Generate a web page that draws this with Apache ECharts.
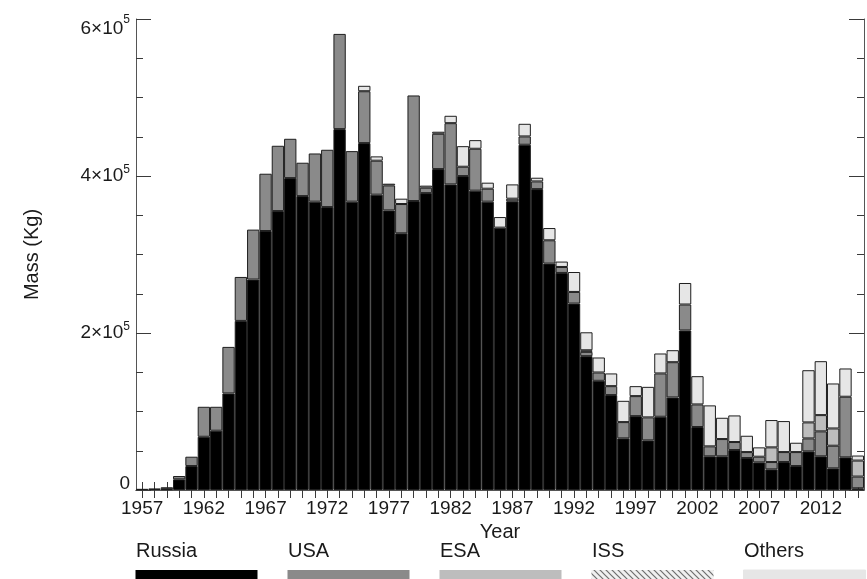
<!DOCTYPE html>
<html>
<head>
<meta charset="utf-8">
<script src="https://cdn.jsdelivr.net/npm/echarts@6/dist/echarts.min.js"></script>
<style>html,body{margin:0;padding:0;background:#fff}#c{width:867px;height:579px}</style>
</head>
<body>
<div id="c"></div>
<script>
// ---- data (kg per year) ----
const years = ['1957','1958','1959','1960','1961','1962','1963','1964','1965','1966',
  '1967','1968','1969','1970','1971','1972','1973','1974','1975','1976',
  '1977','1978','1979','1980','1981','1982','1983','1984','1985','1986',
  '1987','1988','1989','1990','1991','1992','1993','1994','1995','1996',
  '1997','1998','1999','2000','2001','2002','2003','2004','2005','2006',
  '2007','2008','2009','2010','2011','2012','2013','2014','2015'];

const russia = [1500,2000,1000,13600,30500,67800,75500,123000,215400,268100,
  329900,355300,397300,374400,367300,360400,459700,367300,441900,376200,
  356200,327000,368100,378200,408800,389300,399900,381300,367300,334200,
  367700,439800,383300,288400,276500,237500,170500,139100,120900,65800,
  94100,63200,93300,117900,203200,80200,42900,42900,50900,40700,
  35200,26300,35600,30500,49200,42900,27600,41600,2200];

const usa = [0,0,2500,4200,11900,38200,30500,59300,56000,63600,
  73000,83200,50100,42500,61400,73000,121300,64400,66100,43300,
  31800,37300,134500,6900,45000,78000,11900,53400,16500,0,
  3400,10600,9800,29700,7600,14800,5500,10600,11400,20700,
  25500,29300,55200,44900,33100,28800,12700,22000,10200,7600,
  7200,9300,12700,17800,16500,31800,28800,77200,14900];

const esa = [0,0,0,0,0,0,0,0,0,0,
  0,0,0,0,0,0,0,0,0,0,
  0,0,0,0,0,0,0,0,0,0,
  0,0,0,0,0,0,2000,0,0,0,
  0,0,0,0,0,0,0,0,0,0,
  0,18700,0,0,20400,20700,22000,0,20400];

const iss = [0,0,0,0,0,0,0,0,0,0,
  0,0,0,0,0,0,0,0,0,0,
  0,0,0,0,0,0,0,0,0,0,
  0,0,0,0,0,0,0,0,0,0,
  0,0,0,0,0,0,0,0,0,0,
  0,0,0,0,0,0,0,0,0];

const others = [0,0,0,0,0,0,0,0,0,0,
  0,0,0,0,0,0,0,0,6900,5500,
  2200,6800,0,2600,2600,9400,26200,11000,7700,13500,
  18200,16100,4700,15600,6900,25400,22900,19100,16200,27100,
  12700,38900,25400,15300,27400,36000,52200,27100,33900,20800,
  11900,34800,39500,11900,66500,68700,57300,36000,6400];

const seriesNames = ['Russia','USA','ESA','ISS','Others'];
const yTicks = [0, 200000, 400000, 600000];

// ---- styling ----
const FONT = "'Liberation Sans', Arial, sans-serif";
const TXT = '#1a1a1a';

const pc = document.createElement('canvas');
pc.width = 6; pc.height = 6;
const pctx = pc.getContext('2d');
pctx.fillStyle = '#f0f0f0'; pctx.fillRect(0,0,6,6);
pctx.strokeStyle = '#6e6e6e'; pctx.lineWidth = 1.2;
pctx.beginPath();
pctx.moveTo(0,0); pctx.lineTo(6,6);
pctx.moveTo(-1,5); pctx.lineTo(1,7);
pctx.moveTo(5,-1); pctx.lineTo(7,1);
pctx.stroke();
const hatch = {image: pc, repeat: 'repeat'};

const colors = ['#000000', '#8a8a8a', '#bdbdbd', hatch, '#e6e6e6'];
const values = [russia, usa, esa, iss, others];

const series = seriesNames.map((n, i) => ({
  name: n,
  type: 'bar',
  stack: 'mass',
  barCategoryGap: '0%',
  silent: true,
  data: values[i].map(v => v > 0 ? v : null),
  itemStyle: {color: colors[i], borderColor: '#1e1e1e', borderWidth: 1}
}));

const axisLineStyle = {color: '#555', width: 1};
const tickStyle = {color: '#3a3a3a', width: 1};

const xCommon = {
  type: 'category',
  data: years,
  boundaryGap: true,
  axisLine: {show: true, lineStyle: axisLineStyle},
  axisTick: {show: true, inside: true, length: 8, alignWithLabel: true, interval: 0, lineStyle: tickStyle},
  splitLine: {show: false}
};

const yCommon = {
  type: 'value',
  min: yTicks[0],
  max: yTicks[yTicks.length - 1],
  interval: yTicks[1] - yTicks[0],
  axisLine: {show: true, lineStyle: axisLineStyle},
  axisTick: {show: true, inside: true, length: 15, lineStyle: tickStyle},
  minorTick: {show: true, splitNumber: 4, length: 7, lineStyle: tickStyle},
  splitLine: {show: false},
  minorSplitLine: {show: false}
};

const graphic = [];
seriesNames.forEach((n, i) => {
  const x0 = 136 + i * 152;
  graphic.push({
    type: 'text', x: x0, y: 551, silent: true,
    style: {text: n, font: '20px ' + FONT, fill: TXT, textVerticalAlign: 'middle', textAlign: 'left'}
  });
  graphic.push({
    type: 'rect', silent: true,
    shape: {x: x0 - 0.5, y: 570, width: 122, height: 12},
    style: {fill: colors[i], stroke: i === 4 ? '#e6e6e6' : null}
  });
});

const option = {
  animation: false,
  backgroundColor: '#ffffff',
  textStyle: {fontFamily: FONT},
  grid: {left: 136, right: 3, top: 19, bottom: 89, containLabel: false},
  xAxis: [
    Object.assign({}, xCommon, {
      position: 'bottom',
      axisLabel: {show: true, interval: 4, margin: 9, fontSize: 19, color: TXT, fontFamily: FONT},
      name: 'Year', nameLocation: 'middle', nameGap: 28,
      nameTextStyle: {fontSize: 20, color: TXT, fontFamily: FONT}
    }),
    Object.assign({}, xCommon, {position: 'top', axisLabel: {show: false}})
  ],
  yAxis: [
    Object.assign({}, yCommon, {
      position: 'left',
      axisLabel: {
        show: true, margin: 6,
        formatter: function (v) {
          if (v === 0) return '{z|0}';
          const m = Math.round(v / 100000);
          if (v === yTicks[yTicks.length - 1]) return '{t|' + m + '×10}{ts|5}';
          return '{a|' + m + '×10}{s|5}';
        },
        rich: {
          a: {fontSize: 19, lineHeight: 24, color: TXT, fontFamily: FONT},
          s: {fontSize: 12, lineHeight: 12, verticalAlign: 'top', color: TXT, fontFamily: FONT},
          t: {fontSize: 19, lineHeight: 24, padding: [19, 0, 0, 0], color: TXT, fontFamily: FONT},
          ts: {fontSize: 12, lineHeight: 12, verticalAlign: 'top', padding: [7, 0, 0, 0], color: TXT, fontFamily: FONT},
          z: {fontSize: 19, lineHeight: 19, padding: [0, 0, 12, 0], color: TXT, fontFamily: FONT}
        }
      },
      name: 'Mass (Kg)', nameLocation: 'middle', nameGap: 94, nameRotate: 90,
      nameTextStyle: {fontSize: 20, color: TXT, fontFamily: FONT}
    }),
    Object.assign({}, yCommon, {position: 'right', axisLabel: {show: false}})
  ],
  series: series,
  graphic: graphic
};

const chart = echarts.init(document.getElementById('c'), null, {renderer: 'canvas'});
chart.setOption(option);
</script>
</body>
</html>
